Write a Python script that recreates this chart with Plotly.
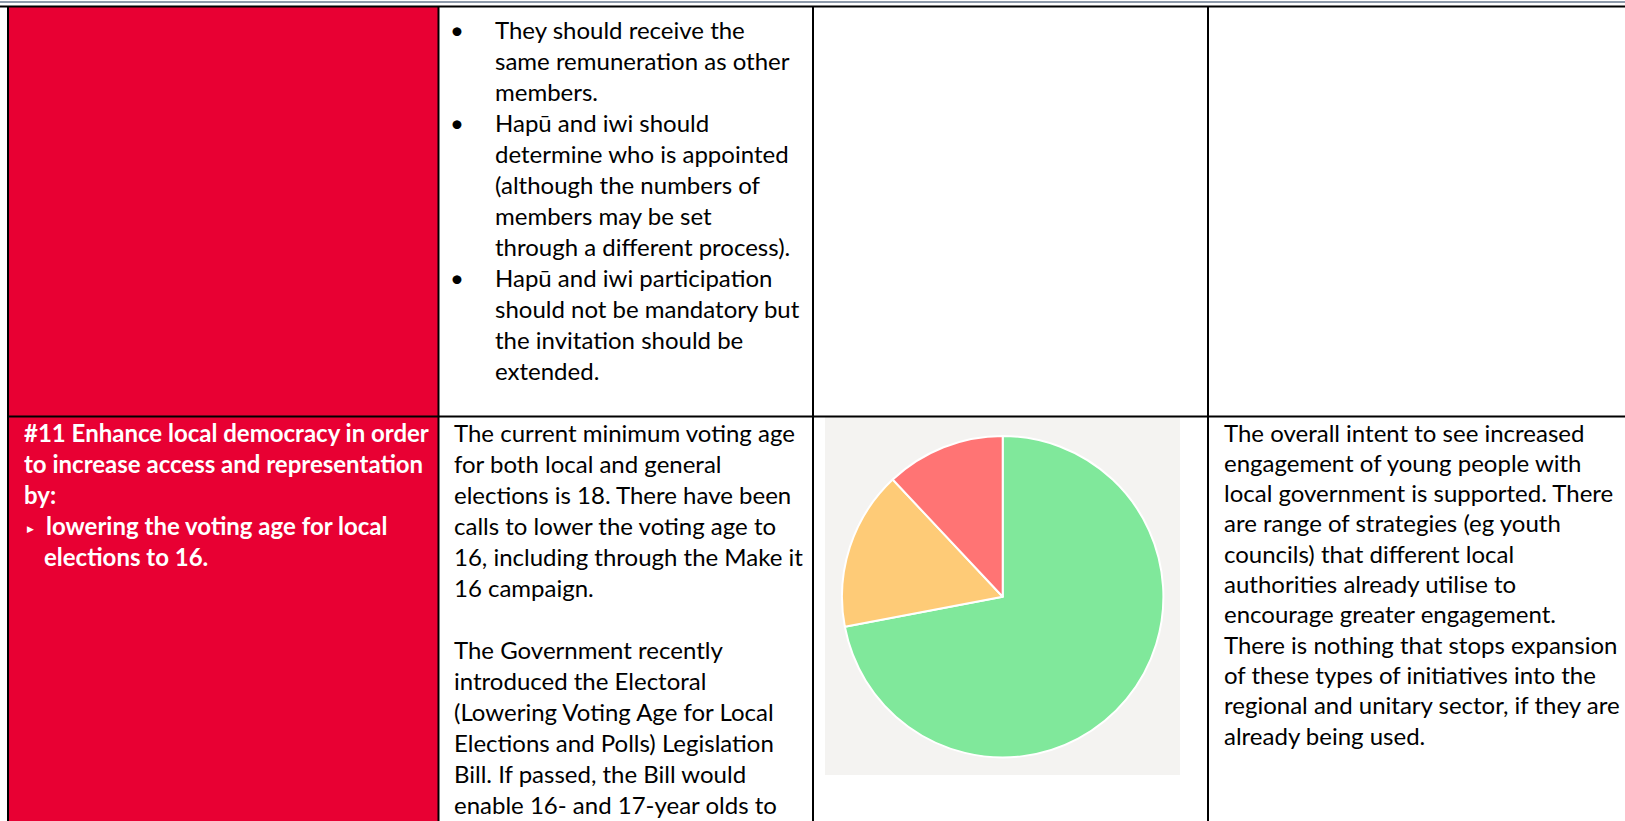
import plotly.graph_objects as go

# ---- content -------------------------------------------------------------
# Row 1, column 2: bulleted submission points (each inner list is one bullet)
submission_bullets = [
    ["They should receive the", "same remuneration as other", "members."],
    ["Hapū and iwi should", "determine who is appointed", "(although the numbers of",
     "members may be set", "through a different process)."],
    ["Hapū and iwi participation", "should not be mandatory but",
     "the invitation should be", "extended."],
]

# Row 2, column 1: recommendation heading and its sub-point
recommendation_lines = ["#11 Enhance local democracy in order",
                        "to increase access and representation", "by:"]
recommendation_sub = ["lowering the voting age for local", "elections to 16."]

# Row 2, column 2: context
context_lines = [
    "The current minimum voting age", "for both local and general",
    "elections is 18. There have been", "calls to lower the voting age to",
    "16, including through the Make it", "16 campaign.", "",
    "The Government recently", "introduced the Electoral",
    "(Lowering Voting Age for Local", "Elections and Polls) Legislation",
    "Bill. If passed, the Bill would", "enable 16- and 17-year olds to",
]

# Row 2, column 4: response
response_lines = [
    "The overall intent to see increased", "engagement of young people with",
    "local government is supported. There", "are range of strategies (eg youth",
    "councils) that different local", "authorities already utilise to",
    "encourage greater engagement.", "There is nothing that stops expansion",
    "of these types of initiatives into the", "regional and unitary sector, if they are",
    "already being used.",
]

# Row 2, column 3: rating split shown as a pie
rating_labels = ["Green", "Amber", "Red"]
rating_values = [72, 16, 12]
rating_colors = ["#80e89b", "#fecb77", "#ff7474"]

# ---- page geometry (pixels) ----------------------------------------------
W, H = 1625, 821
FONT = "Lato"
FS = 24
LINE = 31
TEXT_DY = -3  # shift from x-height centre to text-box centre
RED = "#e80033"


def px(x):
    return x / W


def py(y):
    return 1 - y / H


annotations = []


def add_text(x, y, s, color="#000000", bold=False, size=FS, anchor="left"):
    if not s:
        return
    annotations.append(dict(
        x=px(x), y=py(y + TEXT_DY), xref="paper", yref="paper",
        text=f"<b>{s}</b>" if bold else s, showarrow=False,
        xanchor=anchor, yanchor="middle",
        font=dict(family=FONT, size=size, color=color),
    ))


# column 2, row 1 bullets
row = 0
for item in submission_bullets:
    for j, line in enumerate(item):
        y = 32.5 + row * LINE
        if j == 0:
            add_text(456.5, y, "•", anchor="center")
        add_text(493, y, line)
        row += 1

# column 1, row 2 (white bold on red)
for i, line in enumerate(recommendation_lines):
    add_text(21.5, 435 + i * LINE, line, color="#ffffff", bold=True)
base = 435 + len(recommendation_lines) * LINE
for i, line in enumerate(recommendation_sub):
    y = base + i * LINE
    if i == 0:
        annotations.append(dict(
            x=px(30.5), y=py(y + 1), xref="paper", yref="paper", text="▶",
            showarrow=False, xanchor="center", yanchor="middle",
            font=dict(family="DejaVu Sans", size=9, color="#ffffff")))
    add_text(42 if i else 44, y, line, color="#ffffff", bold=True)

# column 2, row 2
for i, line in enumerate(context_lines):
    add_text(451.5, 435 + i * LINE, line)

# column 4, row 2
for i, line in enumerate(response_lines):
    add_text(1221.5, 435 + i * 30.3, line)

# ---- table shapes ---------------------------------------------------------
shapes = []


def rect(x0, y0, x1, y1, fill, layer="below"):
    shapes.append(dict(type="rect", xref="paper", yref="paper",
                       x0=px(x0), x1=px(x1), y0=py(y0), y1=py(y1),
                       fillcolor=fill, line=dict(width=0), layer=layer))


def line(x0, y0, x1, y1, color="#000000", width=2):
    shapes.append(dict(type="line", xref="paper", yref="paper",
                       x0=px(x0), x1=px(x1), y0=py(y0), y1=py(y1),
                       line=dict(color=color, width=width), layer="above"))


rect(9, 6, 438, H, RED)                 # recommendation column fill
rect(825, 417, 1180, 775, "#f4f3f1")    # chart image background

line(0, 2, W, 2, color="#1f3656", width=1.2)   # page rule
line(0, 6.5, W, 6.5, width=2)                  # table top
line(8, 6, 8, H, width=2)
line(438.5, 6, 438.5, H, width=2)
line(813, 6, 813, H, width=2)
line(1208, 6, 1208, H, width=2)
line(8, 416.5, W, 416.5, width=2)              # row divider

# ---- pie ------------------------------------------------------------------
# sweeps clockwise from 12 o'clock, so the last slice (red) ends at the top
cx, cy, r = 1002.7, 596.7, 160.7
pie = go.Pie(
    labels=rating_labels, values=rating_values, sort=False,
    direction="clockwise", rotation=0,
    marker=dict(colors=rating_colors, line=dict(color="#ffffff", width=2)),
    textinfo="none", hoverinfo="label+percent", showlegend=False,
    domain=dict(x=[px(cx - r), px(cx + r)], y=[py(cy + r), py(cy - r)]),
)

fig = go.Figure(pie)
fig.update_layout(
    width=W, height=H, margin=dict(l=0, r=0, t=0, b=0),
    paper_bgcolor="#ffffff", plot_bgcolor="#ffffff",
    shapes=shapes, annotations=annotations, showlegend=False,
)
fig.write_html("out.html", config={"displayModeBar": False})
